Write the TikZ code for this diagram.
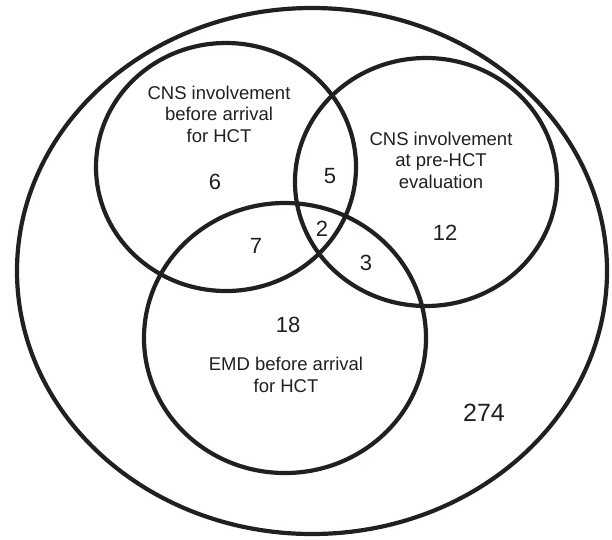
\documentclass[tikz,border=0pt]{standalone}
\usepackage{fontspec}
\setmainfont{Liberation Sans}
\definecolor{ink}{HTML}{231F20}
\tikzset{
  setline/.style = {draw = ink, line width = 4.2pt},
  setname/.style = {align = center, inner sep = 0pt, text = ink, font = \fontsize{18.5}{21.5}\selectfont},
  count/.style = {inner sep = 0pt, text = ink, font = \fontsize{22}{26}\selectfont}
}
\begin{document}
\begin{tikzpicture}[x=1pt,y=-1pt]
\useasboundingbox (0,0) rectangle (612,539);
  %sets
  \draw[setline] (312,271) ellipse [x radius = 295, y radius = 263];
  \draw[setline] (226,167) ellipse [x radius = 130, y radius = 124];
  \draw[setline] (426,182) ellipse [x radius = 131, y radius = 124];
  \draw[setline] (285,338) ellipse [x radius = 141, y radius = 135];
  %set labels
  \node[setname] (S1) at (219,114) {CNS involvement \\ before arrival \\ for HCT};
  \node[setname] (S2) at (441,160) {CNS involvement \\ at pre-HCT \\ evaluation};
  \node[setname] (S3) at (286,375) {EMD before arrival \\ for HCT};
  %counts
  \node[count] (N1) at (215,182) {6};
  \node[count] (N12) at (330,176) {5};
  \node[count] (N123) at (322,229) {2};
  \node[count] (N13) at (256,246) {7};
  \node[count] (N23) at (366,263) {3};
  \node[count] (N2) at (445,233) {12};
  \node[count] (N3) at (288,325) {18};
  \node[count, font = \fontsize{25}{30}\selectfont] (N0) at (484,413) {274};
\end{tikzpicture}
\end{document}
